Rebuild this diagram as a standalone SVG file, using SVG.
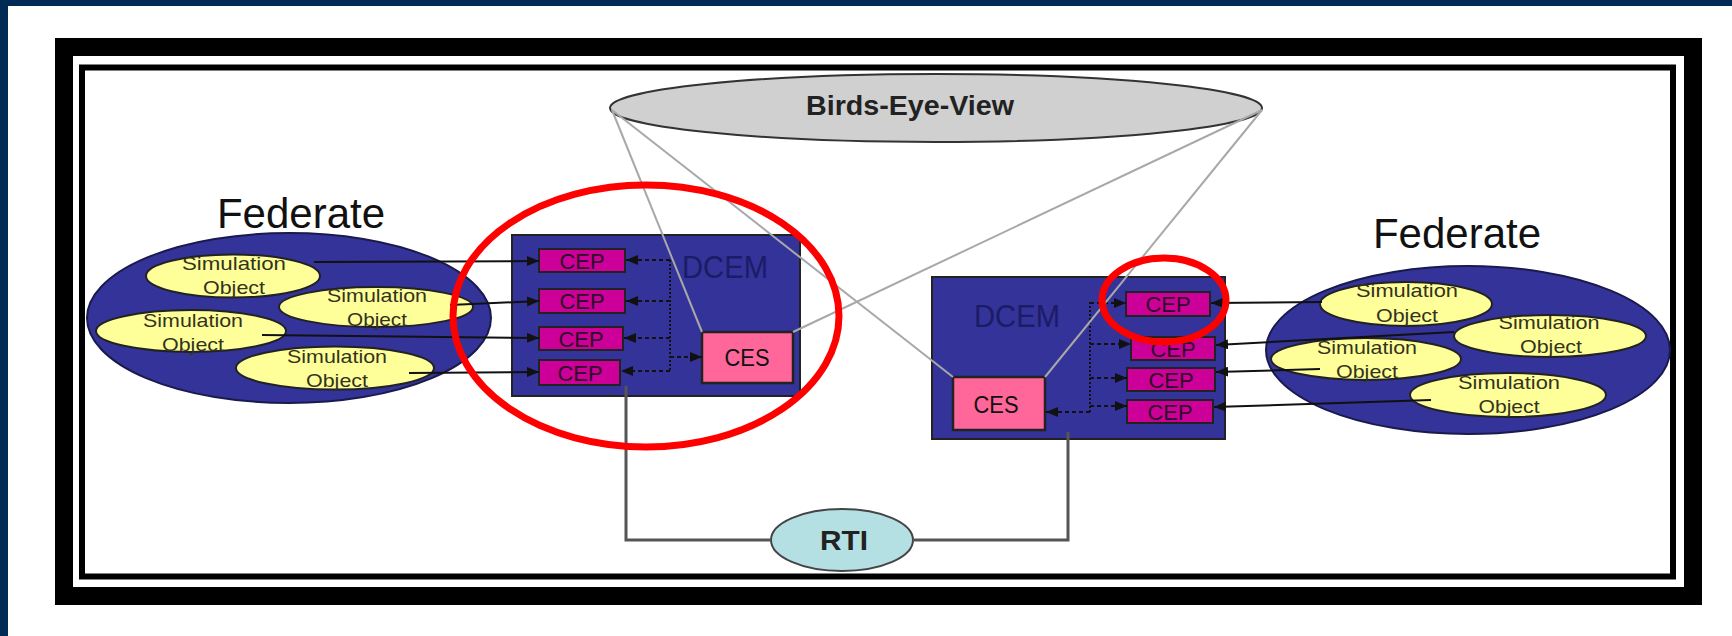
<svg xmlns="http://www.w3.org/2000/svg" width="1732" height="636" viewBox="0 0 1732 636">
<style>
text{font-family:"Liberation Sans",Arial,sans-serif}
.fed{fill:#333399;stroke:#1a1a4d;stroke-width:2}
.so{fill:#ffff99;stroke:#222;stroke-width:2}
.sot{font-size:19px;fill:#33331c;text-anchor:middle}
.dcem{fill:#333399;stroke:#222;stroke-width:2}
.dcemt{font-size:31px;fill:#1c1c66;text-anchor:middle}
.cep{fill:#cc0099;stroke:#222;stroke-width:2}
.cept{font-size:22px;fill:#2e0c26;text-anchor:middle}
.ces{fill:#ff6699;stroke:#222;stroke-width:2.5}
.cest{font-size:23px;fill:#111;text-anchor:middle}
.fedt{font-size:42px;fill:#111;text-anchor:middle}
.solid{fill:none;stroke:#111;stroke-width:2}
.dot{fill:none;stroke:#111;stroke-width:2;stroke-dasharray:4 3}
.vdot{fill:none;stroke:#111;stroke-width:2;stroke-dasharray:2 2}
.gray{fill:none;stroke:#a8a8a8;stroke-width:2}
.rti{fill:none;stroke:#555;stroke-width:3}
.red{fill:none;stroke:#ff0000;stroke-width:7}
</style>
<defs>
<marker id="arr" viewBox="0 0 12 10" refX="12" refY="5" markerWidth="12" markerHeight="10" markerUnits="userSpaceOnUse" orient="auto"><path d="M0,0 L12,5 L0,10 z" fill="#111"/></marker>
</defs>
<rect x="0" y="0" width="1732" height="636" fill="#002b55"/>
<rect x="8" y="6" width="1724" height="630" fill="#ffffff"/>
<g id="frame">
<rect x="64" y="47" width="1629" height="549" fill="none" stroke="#000" stroke-width="18"/>
<rect x="82" y="67.5" width="1591" height="509" fill="none" stroke="#000" stroke-width="6"/>
</g>
<g id="birds-eye-view">
<ellipse cx="936" cy="108" rx="326" ry="34" fill="#d0d0d0" stroke="#333" stroke-width="2"/>
<text x="910" y="115" font-size="27" font-weight="bold" fill="#222" text-anchor="middle" textLength="208" lengthAdjust="spacingAndGlyphs">Birds-Eye-View</text>
</g>
<g id="federate-left">
<text class="fedt" x="301" y="228">Federate</text>
<ellipse class="fed" cx="289" cy="318" rx="202" ry="85"/>
</g>
<g id="so-left-1"><ellipse class="so" cx="233" cy="276" rx="87" ry="21.5"/><text class="sot" x="234" y="270" textLength="104" lengthAdjust="spacingAndGlyphs">Simulation</text><text class="sot" x="234" y="294" textLength="62" lengthAdjust="spacingAndGlyphs">Object</text></g>
<g id="so-left-2"><ellipse class="so" cx="376" cy="307" rx="97" ry="20"/><text class="sot" x="377" y="302" textLength="100" lengthAdjust="spacingAndGlyphs">Simulation</text><text class="sot" x="377" y="326" textLength="60" lengthAdjust="spacingAndGlyphs">Object</text></g>
<g id="so-left-3"><ellipse class="so" cx="191" cy="331" rx="95" ry="21"/><text class="sot" x="193" y="327" textLength="100" lengthAdjust="spacingAndGlyphs">Simulation</text><text class="sot" x="193" y="351" textLength="62" lengthAdjust="spacingAndGlyphs">Object</text></g>
<g id="so-left-4"><ellipse class="so" cx="335" cy="368" rx="99" ry="21.5"/><text class="sot" x="337" y="363" textLength="100" lengthAdjust="spacingAndGlyphs">Simulation</text><text class="sot" x="337" y="387" textLength="62" lengthAdjust="spacingAndGlyphs">Object</text></g>
<g id="dcem-left">
<rect class="dcem" x="512" y="235" width="288" height="161"/>
<text class="dcemt" x="725" y="278" textLength="86" lengthAdjust="spacingAndGlyphs">DCEM</text>
</g>
<g id="cep-left-1"><rect class="cep" x="539" y="249" width="86" height="23"/><text class="cept" x="582" y="269">CEP</text></g>
<g id="cep-left-2"><rect class="cep" x="539" y="289" width="86" height="24"/><text class="cept" x="582" y="309">CEP</text></g>
<g id="cep-left-3"><rect class="cep" x="539" y="327" width="84" height="23"/><text class="cept" x="581" y="347">CEP</text></g>
<g id="cep-left-4"><rect class="cep" x="539" y="360" width="81" height="25"/><text class="cept" x="580" y="381">CEP</text></g>
<g id="ces-left"><rect class="ces" x="702" y="332" width="91" height="51"/><text class="cest" x="747" y="366" textLength="45" lengthAdjust="spacingAndGlyphs">CES</text></g>
<g id="dcem-right">
<rect class="dcem" x="932" y="277" width="293" height="162"/>
<text class="dcemt" x="1017" y="327" textLength="86" lengthAdjust="spacingAndGlyphs">DCEM</text>
</g>
<g id="cep-right-1"><rect class="cep" x="1126" y="292" width="84" height="24"/><text class="cept" x="1168" y="312">CEP</text></g>
<g id="cep-right-2"><rect class="cep" x="1131" y="337" width="84" height="23"/><text class="cept" x="1173" y="357">CEP</text></g>
<g id="cep-right-3"><rect class="cep" x="1127" y="368" width="88" height="23"/><text class="cept" x="1171" y="388">CEP</text></g>
<g id="cep-right-4"><rect class="cep" x="1127" y="400" width="86" height="23"/><text class="cept" x="1170" y="420">CEP</text></g>
<g id="ces-right"><rect class="ces" x="953" y="377" width="92" height="53"/><text class="cest" x="996" y="413" textLength="45" lengthAdjust="spacingAndGlyphs">CES</text></g>
<g id="federate-right">
<text class="fedt" x="1457" y="248">Federate</text>
<ellipse class="fed" cx="1468" cy="350" rx="202" ry="84"/>
</g>
<g id="so-right-1"><ellipse class="so" cx="1406" cy="304" rx="86" ry="22"/><text class="sot" x="1407" y="297" textLength="102" lengthAdjust="spacingAndGlyphs">Simulation</text><text class="sot" x="1407" y="322" textLength="62" lengthAdjust="spacingAndGlyphs">Object</text></g>
<g id="so-right-2"><ellipse class="so" cx="1550" cy="336" rx="96" ry="21"/><text class="sot" x="1549" y="329" textLength="101" lengthAdjust="spacingAndGlyphs">Simulation</text><text class="sot" x="1551" y="353" textLength="62" lengthAdjust="spacingAndGlyphs">Object</text></g>
<g id="so-right-3"><ellipse class="so" cx="1366" cy="359" rx="95" ry="21"/><text class="sot" x="1367" y="354" textLength="100" lengthAdjust="spacingAndGlyphs">Simulation</text><text class="sot" x="1367" y="378" textLength="62" lengthAdjust="spacingAndGlyphs">Object</text></g>
<g id="so-right-4"><ellipse class="so" cx="1508" cy="395" rx="98" ry="22"/><text class="sot" x="1509" y="389" textLength="102" lengthAdjust="spacingAndGlyphs">Simulation</text><text class="sot" x="1509" y="413" textLength="61" lengthAdjust="spacingAndGlyphs">Object</text></g>
<g id="rti">
<ellipse cx="842" cy="540" rx="71" ry="31" fill="#b4e0e4" stroke="#444" stroke-width="2"/>
<text x="844" y="550" font-size="28" font-weight="bold" fill="#222" text-anchor="middle" textLength="48" lengthAdjust="spacingAndGlyphs">RTI</text>
</g>
<g id="connectors">
<path class="solid" marker-end="url(#arr)" d="M314,262 L539,261"/>
<path class="solid" marker-end="url(#arr)" d="M450,305 L539,301"/>
<path class="solid" marker-end="url(#arr)" d="M262,335 L539,338"/>
<path class="solid" marker-end="url(#arr)" d="M409,373 L539,372"/>
<path class="vdot" d="M670,260 L670,371"/>
<path class="dot" marker-end="url(#arr)" d="M670,260 L626,260"/>
<path class="dot" marker-end="url(#arr)" d="M670,301 L626,301"/>
<path class="dot" marker-end="url(#arr)" d="M670,338 L624,338"/>
<path class="dot" marker-end="url(#arr)" d="M670,371 L621,371"/>
<path class="dot" marker-end="url(#arr)" d="M670,357 L702,357"/>
<path class="vdot" d="M1090,302 L1090,412"/>
<path class="dot" marker-end="url(#arr)" d="M1090,303 L1126,303"/>
<path class="dot" marker-end="url(#arr)" d="M1090,344 L1131,344"/>
<path class="dot" marker-end="url(#arr)" d="M1090,378 L1127,378"/>
<path class="dot" marker-end="url(#arr)" d="M1090,406 L1127,406"/>
<path class="dot" marker-end="url(#arr)" d="M1090,412 L1046,412"/>
<path class="solid" marker-end="url(#arr)" d="M1322,302 L1211,303"/>
<path class="solid" marker-end="url(#arr)" d="M1454,332 L1216,345"/>
<path class="solid" marker-end="url(#arr)" d="M1320,369 L1216,372"/>
<path class="solid" marker-end="url(#arr)" d="M1431,400 L1214,407"/>
<path class="rti" d="M626,386 L626,540 L771,540"/>
<path class="rti" d="M913,540 L1068,540 L1068,432"/>
<path class="gray" d="M612,110 L702,332"/>
<path class="gray" d="M612,110 L953,377"/>
<path class="gray" d="M1262,110 L793,332"/>
<path class="gray" d="M1262,110 L1045,377"/>
</g>
<g id="highlights">
<ellipse class="red" cx="646" cy="316" rx="193" ry="131"/>
<ellipse class="red" cx="1164" cy="300" rx="62" ry="42"/>
</g>
</svg>
